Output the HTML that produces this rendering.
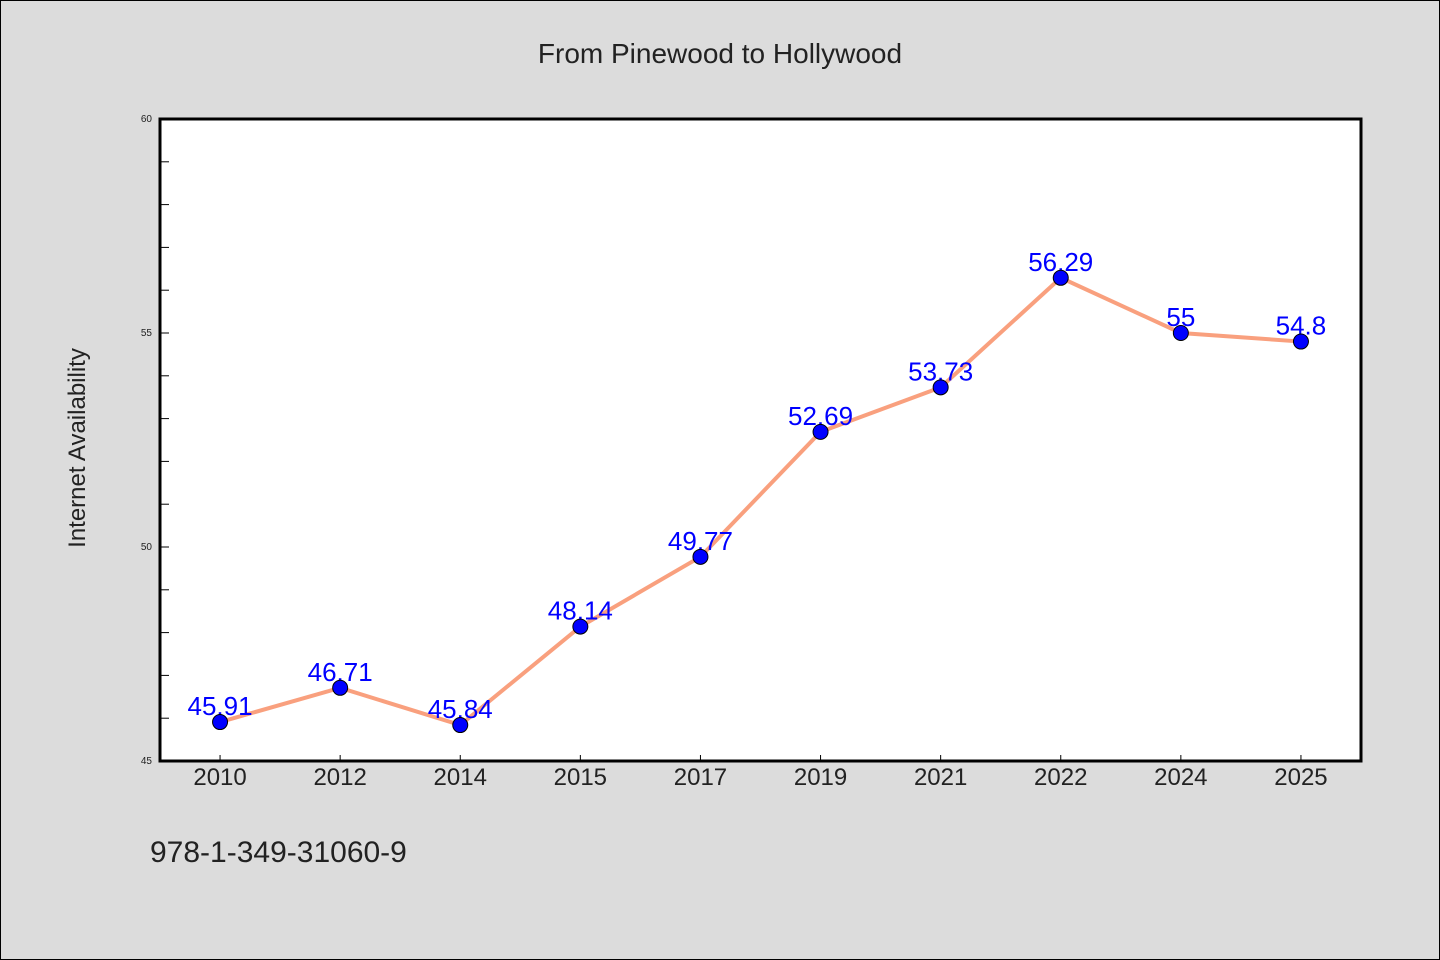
<!DOCTYPE html>
<html><head><meta charset="utf-8"><style>
html,body{margin:0;padding:0;background:#dcdcdc}
svg{display:block;font-family:"WenQuanYi Zen Hei","Liberation Sans",sans-serif}
</style></head><body>
<svg id="chart" width="1440" height="960">
<rect x="0.5" y="0.5" width="1439" height="959" fill="#dcdcdc" stroke="#000"/>
<text x="720" y="63" text-anchor="middle" font-size="28" fill="#222">From Pinewood to Hollywood</text>
<rect x="160" y="119" width="1201" height="642" fill="#fff" stroke="#000" stroke-width="3"/>
<text transform="translate(85,448) rotate(-90)" text-anchor="middle" font-size="24" fill="#222">Internet Availability</text>
<text x="150" y="862" font-size="30" fill="#222">978-1-349-31060-9</text>
<g id="yaxis"></g><g id="xaxis"></g><g id="series"></g>
</svg>
<script>
const categories=["2010","2012","2014","2015","2017","2019","2021","2022","2024","2025"];
const values=[45.91,46.71,45.84,48.14,49.77,52.69,53.73,56.29,55,54.8];
const valueLabels=["45.91","46.71","45.84","48.14","49.77","52.69","53.73","56.29","55","54.8"];
const yTickLabels=[45,50,55,60];
const yMin=45,yMax=60;
const NS="http://www.w3.org/2000/svg";
const L=160,R=1361,T=119,B=761;
const y=v=>B-(v-yMin)/(yMax-yMin)*(B-T);
const bw=(R-L)/categories.length;
const x=i=>L+bw*(i+0.5);
function mk(tag,attrs,parent){const e=document.createElementNS(NS,tag);for(const k in attrs)e.setAttribute(k,attrs[k]);parent.appendChild(e);return e;}
const ya=document.getElementById('yaxis'),xa=document.getElementById('xaxis'),s=document.getElementById('series');
for(let v=yMin;v<=yMax;v++){
  const t=mk('line',{x1:L,x2:L+9,y1:y(v),y2:y(v),stroke:'#000','stroke-width':1},ya);
  
  
}
yTickLabels.forEach(v=>{
  const t=mk('text',{x:152,y:y(v)+3,'text-anchor':'end','font-size':10,fill:'#222'},ya);
  t.textContent=v;
  
  
});
categories.forEach((c,i)=>{
  const tk=mk('line',{x1:x(i),x2:x(i),y1:B,y2:B-6,stroke:'#000','stroke-width':1},xa);
  
  
  const t=mk('text',{x:x(i),y:785,'text-anchor':'middle','font-size':24,fill:'#222'},xa);
  t.textContent=c;
  
  
});
const path=mk('polyline',{points:values.map((v,i)=>x(i)+','+y(v)).join(' '),fill:'none',stroke:'#f9a07e','stroke-width':4},s);


values.forEach((v,i)=>{
  const t=mk('text',{x:x(i),y:y(v)-7,'text-anchor':'middle','font-size':26,fill:'#0000ff'},s);
  t.textContent=valueLabels[i];
  
  
});
values.forEach((v,i)=>{
  const c=mk('circle',{cx:x(i),cy:y(v),r:7.5,fill:'#0000ff',stroke:'#000','stroke-width':1},s);
  
  
});
</script>
</body></html>
